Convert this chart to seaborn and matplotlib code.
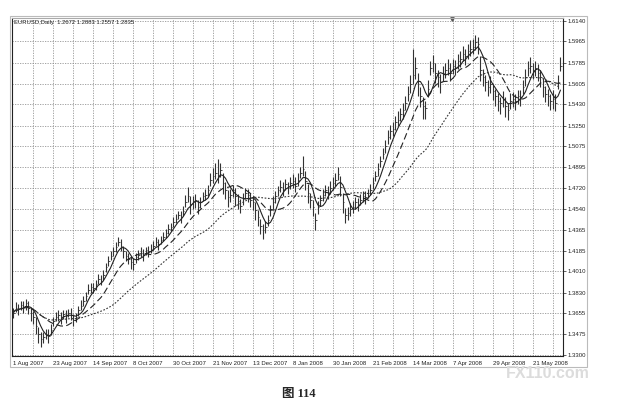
import numpy as np
import pandas as pd
import matplotlib
matplotlib.use("Agg")
import matplotlib.pyplot as plt
from matplotlib.patches import Rectangle
import seaborn as sns

# EURUSD daily closes, in pips (price * 10000), 8 bars per grid column
closes = [
    13660, 13700, 13690, 13725, 13705, 13740, 13700, 13660,
    13620, 13550, 13480, 13440, 13450, 13480, 13460, 13510,
    13590, 13620, 13640, 13610, 13650, 13630, 13660, 13640,
    13600, 13620, 13680, 13720, 13760, 13800, 13850, 13880,
    13870, 13900, 13950, 13930, 13980, 14050, 14100, 14140,
    14180, 14220, 14260, 14230, 14180, 14140, 14120, 14090,
    14070, 14130, 14150, 14170, 14150, 14190, 14180, 14200,
    14230, 14260, 14240, 14280, 14300, 14340, 14370, 14390,
    14430, 14460, 14490, 14470, 14520, 14600, 14650, 14580,
    14600, 14620, 14560, 14600, 14650, 14660, 14700, 14790,
    14820, 14850, 14830, 14870, 14760, 14700, 14640, 14660,
    14700, 14650, 14610, 14570, 14630, 14680, 14660, 14620,
    14600, 14530, 14470, 14400, 14360, 14390, 14450, 14540,
    14600, 14650, 14700, 14730, 14710, 14750, 14720, 14760,
    14780, 14740, 14790, 14850, 14880, 14780, 14680, 14620,
    14560, 14450, 14560, 14620, 14660, 14700, 14680, 14720,
    14760, 14790, 14840, 14730, 14600, 14490, 14510, 14540,
    14560, 14600, 14580, 14620, 14650, 14640, 14680, 14700,
    14760, 14820, 14880, 14950, 15010, 15080, 15150, 15200,
    15220, 15280, 15300, 15350, 15380, 15440, 15520, 15600,
    15680, 15740, 15600, 15500, 15420, 15400, 15560, 15740,
    15780, 15700, 15660, 15620, 15700, 15720, 15740, 15700,
    15760, 15740, 15800, 15820, 15860, 15840, 15880, 15900,
    15920, 15960, 15940, 15720, 15660, 15620, 15580, 15600,
    15540, 15500, 15460, 15440, 15480, 15420, 15380, 15460,
    15480, 15460, 15500, 15490, 15580, 15660, 15740, 15760,
    15720, 15740, 15700, 15660, 15580, 15520, 15500, 15460,
    15480, 15440, 15620, 15760,
]

# how far each bar's high sits above its close, in pips
high_above = [
    40, 50, 45, 30, 55, 35, 60, 45,
    50, 70, 60, 55, 45, 40, 60, 50,
    35, 45, 40, 55, 30, 50, 35, 60,
    50, 40, 35, 45, 40, 35, 50, 30,
    45, 40, 35, 50, 40, 30, 45, 40,
    35, 40, 45, 55, 50, 40, 45, 50,
    55, 35, 40, 45, 50, 30, 45, 40,
    35, 40, 50, 35, 45, 30, 40, 35,
    40, 35, 30, 50, 45, 60, 80, 70,
    50, 45, 60, 40, 35, 50, 45, 60,
    70, 80, 136, 60, 90, 70, 60, 55,
    45, 70, 60, 55, 50, 40, 55, 60,
    50, 70, 60, 55, 50, 45, 40, 35,
    50, 45, 40, 55, 60, 45, 50, 55,
    60, 70, 55, 50, 110, 80, 70, 60,
    55, 60, 45, 40, 50, 45, 55, 60,
    50, 60, 60, 90, 80, 60, 45, 50,
    45, 40, 55, 45, 40, 50, 35, 55,
    50, 45, 55, 40, 50, 45, 60, 55,
    60, 55, 70, 50, 65, 60, 70, 80,
    225, 90, 100, 80, 70, 60, 80, 60,
    70, 80, 60, 70, 55, 60, 75, 80,
    60, 70, 55, 60, 70, 65, 60, 80,
    70, 60, 60, 120, 70, 60, 55, 70,
    60, 65, 70, 55, 60, 70, 60, 65,
    55, 60, 50, 65, 60, 70, 60, 70,
    65, 60, 70, 60, 75, 70, 65, 60,
    70, 80, 60, 70,
]

# how far each bar's low sits below its close, in pips
low_below = [
    45, 35, 50, 40, 45, 60, 50, 70,
    60, 70, 80, 70, 50, 45, 55, 40,
    40, 35, 50, 45, 40, 55, 40, 45,
    55, 40, 45, 35, 40, 45, 35, 50,
    40, 45, 50, 35, 40, 45, 40, 35,
    40, 45, 35, 50, 55, 45, 50, 60,
    50, 45, 40, 35, 50, 40, 45, 35,
    40, 35, 45, 40, 35, 45, 40, 35,
    45, 40, 35, 50, 40, 45, 50, 80,
    60, 70, 65, 50, 45, 40, 55, 50,
    60, 55, 70, 60, 90, 75, 80, 60,
    55, 80, 70, 60, 55, 50, 60, 65,
    70, 80, 75, 70, 70, 55, 50, 60,
    55, 60, 50, 45, 60, 50, 55, 50,
    60, 55, 50, 45, 60, 80, 90, 70,
    80, 90, 60, 55, 50, 45, 55, 50,
    60, 55, 50, 80, 90, 70, 60, 55,
    50, 55, 60, 45, 50, 55, 45, 40,
    50, 45, 55, 50, 45, 60, 55, 60,
    60, 65, 55, 60, 70, 55, 60, 70,
    80, 90, 100, 90, 110, 90, 70, 60,
    75, 90, 80, 90, 70, 65, 60, 70,
    70, 60, 65, 70, 60, 75, 65, 60,
    65, 70, 80, 90, 70, 75, 80, 70,
    75, 80, 85, 90, 70, 100, 80, 70,
    70, 80, 65, 70, 60, 70, 65, 60,
    70, 65, 75, 80, 90, 70, 80, 80,
    90, 70, 60, 50,
]

price_levels = [1.3300, 1.3475, 1.3655, 1.3830, 1.4010, 1.4185, 1.4365, 1.4540,
                1.4720, 1.4895, 1.5075, 1.5250, 1.5430, 1.5605, 1.5785, 1.5965, 1.6140]
date_labels = ["1 Aug 2007", "23 Aug 2007", "14 Sep 2007", "8 Oct 2007", "30 Oct 2007",
               "21 Nov 2007", "13 Dec 2007", "8 Jan 2008", "30 Jan 2008", "21 Feb 2008",
               "14 Mar 2008", "7 Apr 2008", "29 Apr 2008", "21 May 2008"]
header = "EURUSD,Daily  1.2672 1.2883 1.2557 1.2835"

df = pd.DataFrame({"close": np.array(closes) / 10000.0})
df["high"] = df["close"] + np.array(high_above) / 10000.0
df["low"] = df["close"] - np.array(low_below) / 10000.0
df["bar"] = np.arange(len(df))
df["ma_fast"] = df["close"].rolling(5, min_periods=1).mean()
df["ma_mid"] = df["close"].rolling(13, min_periods=1).mean()
df["ma_slow"] = df["close"].rolling(34, min_periods=1).mean()

sns.set_style("white")
plt.rcParams["font.family"] = ["Liberation Sans", "DejaVu Sans"]

fig = plt.figure(figsize=(6.19, 4.12), dpi=100)
ax = fig.add_axes([0.0194, 0.1359, 0.8901, 0.8204])

# dotted grid like the terminal window
grid_kw = dict(color="#808080", lw=0.5, linestyle=(0, (1.8, 1.8)), zorder=0)
for p in price_levels:
    ax.axhline(p, **grid_kw)
for b in range(8, len(df), 8):
    ax.axvline(b, **grid_kw)

# OHLC bars (high-low stroke and close tick)
ax.vlines(df["bar"], df["low"], df["high"], color="#333333", lw=0.8, zorder=2)
ax.hlines(df["close"], df["bar"], df["bar"] + 0.6, color="#333333", lw=0.6, zorder=2)

sns.lineplot(data=df, x="bar", y="ma_fast", ax=ax, color="#222222", lw=0.8, zorder=3)
sns.lineplot(data=df, x="bar", y="ma_mid", ax=ax, color="#222222", lw=0.8,
             linestyle=(0, (6, 3)), zorder=3)
sns.lineplot(data=df, x="bar", y="ma_slow", ax=ax, color="#333333", lw=0.8,
             linestyle=(0, (1.5, 1.5)), zorder=3)

ax.set_xlim(-0.4, 220)
ax.set_ylim(1.32915, 1.61645)

ax.yaxis.tick_right()
ax.set_yticks(price_levels)
ax.set_yticklabels([f"{p:.4f}" for p in price_levels], fontsize=4.3)
ax.set_xticks(range(0, 16 * len(date_labels), 16))
ax.set_xticklabels(date_labels, fontsize=4.3, ha="left")
ax.tick_params(axis="both", length=2, width=0.5, pad=1.5, colors="#222222")
ax.set_xlabel("")
ax.set_ylabel("")
for s in ax.spines.values():
    s.set_linewidth(0.8)
    s.set_color("#222222")
ax.spines["top"].set_color("#aaaaaa")

ax.text(0.004, 0.995, header, transform=ax.transAxes, fontsize=4.2,
        va="top", ha="left", color="#222222")
ax.plot([175.6], [1.6160], marker="v", ms=2.5, color="#555555", clip_on=False)

# outer window frame
fig.patches.append(Rectangle((10 / 619, 1 - 367 / 412), 577 / 619, 351 / 412,
                             transform=fig.transFigure, fill=False,
                             edgecolor="#bbbbbb", lw=0.8))

fig.text(0.885, 0.094, "FX110.com", fontsize=11.5, fontweight="bold", color="#dcdcdc",
         ha="center", va="center")
fig.text(0.483, 0.043, "图 114", fontsize=9, fontweight="bold", ha="center", va="center",
         family=["Liberation Serif", "Noto Sans CJK SC"])

fig.savefig("out.png", dpi=100, facecolor="white")
